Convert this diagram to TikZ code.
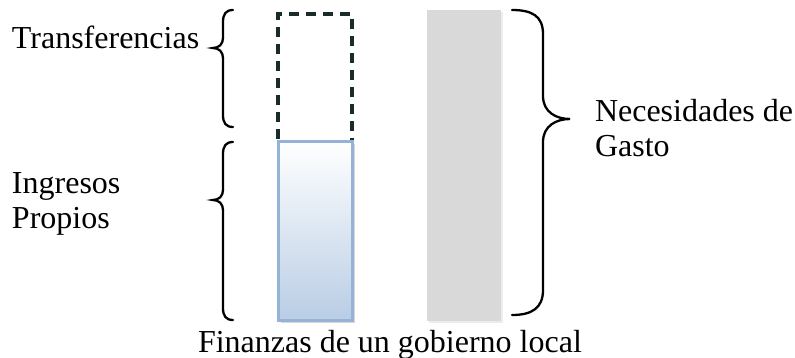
\documentclass[tikz,border=0pt]{standalone}
\usepackage{fontspec}
\setmainfont{Liberation Serif}
\usetikzlibrary{shadows,fadings}
\definecolor{blueedge}{HTML}{95B3D7}
\definecolor{bluefill}{HTML}{B9CDE5}
\definecolor{grayfill}{HTML}{D9D9D9}
\definecolor{dashcol}{HTML}{1B2A2A}
\tikzset{
  lbl/.style={anchor=base west,inner sep=0pt,outer sep=0pt,font=\fontsize{32}{35}\selectfont,align=left},
  brace/.style={line width=2.3pt,black,line cap=round},
  bar/.style={inner sep=0pt,outer sep=0pt,anchor=center},
}
\begin{document}
\begin{tikzpicture}[x=1pt,y=-1pt]
\useasboundingbox[fill=white] (0,0) rectangle (795,358);
% boxes
\node[bar,draw=dashcol,line width=3.3pt,dash pattern=on 10pt off 7pt,minimum width=74pt,minimum height=128pt] (trans) at (315,78) {};
\node[bar,draw=blueedge,line width=3pt,top color=white,bottom color=bluefill,drop shadow={shadow xshift=2.5pt,shadow yshift=-2.5pt,opacity=0.3},minimum width=74pt,minimum height=178pt] (ingr) at (315,231) {};
\node[bar,fill=grayfill,drop shadow={shadow xshift=2pt,shadow yshift=-2pt,opacity=0.15},minimum width=74pt,minimum height=311pt] (gasto) at (463.5,165.5) {};
% braces
\draw[brace] (233,10) .. controls (226,10) and (223,14) .. (223,22) -- (223,38) .. controls (223,44) and (219,48) .. (213,48) .. controls (219,48) and (223,52) .. (223,58) -- (223,115) .. controls (223,123) and (226,127) .. (233,127);
\draw[brace] (233,142) .. controls (226,142) and (223,146) .. (223,154) -- (223,190) .. controls (223,196) and (219,200) .. (213,200) .. controls (219,200) and (223,204) .. (223,210) -- (223,308) .. controls (223,316) and (226,320) .. (233,320);
\draw[brace] (512,10) .. controls (532,10) and (543,16) .. (543,34) -- (543,96) .. controls (543,112) and (556,119) .. (570,119) .. controls (556,119) and (543,126) .. (543,142) -- (543,290) .. controls (543,308) and (532,315) .. (512,315);
% labels
\node[lbl] (ltrans) at (12,49) {Transferencias};
\node[lbl] (lingr) at (12,229) {Ingresos\\Propios};
\node[lbl] (lgasto) at (595,157) {Necesidades de\\Gasto};
\node[lbl] (lfin) at (198,352) {Finanzas de un gobierno local};
\end{tikzpicture}
\end{document}
